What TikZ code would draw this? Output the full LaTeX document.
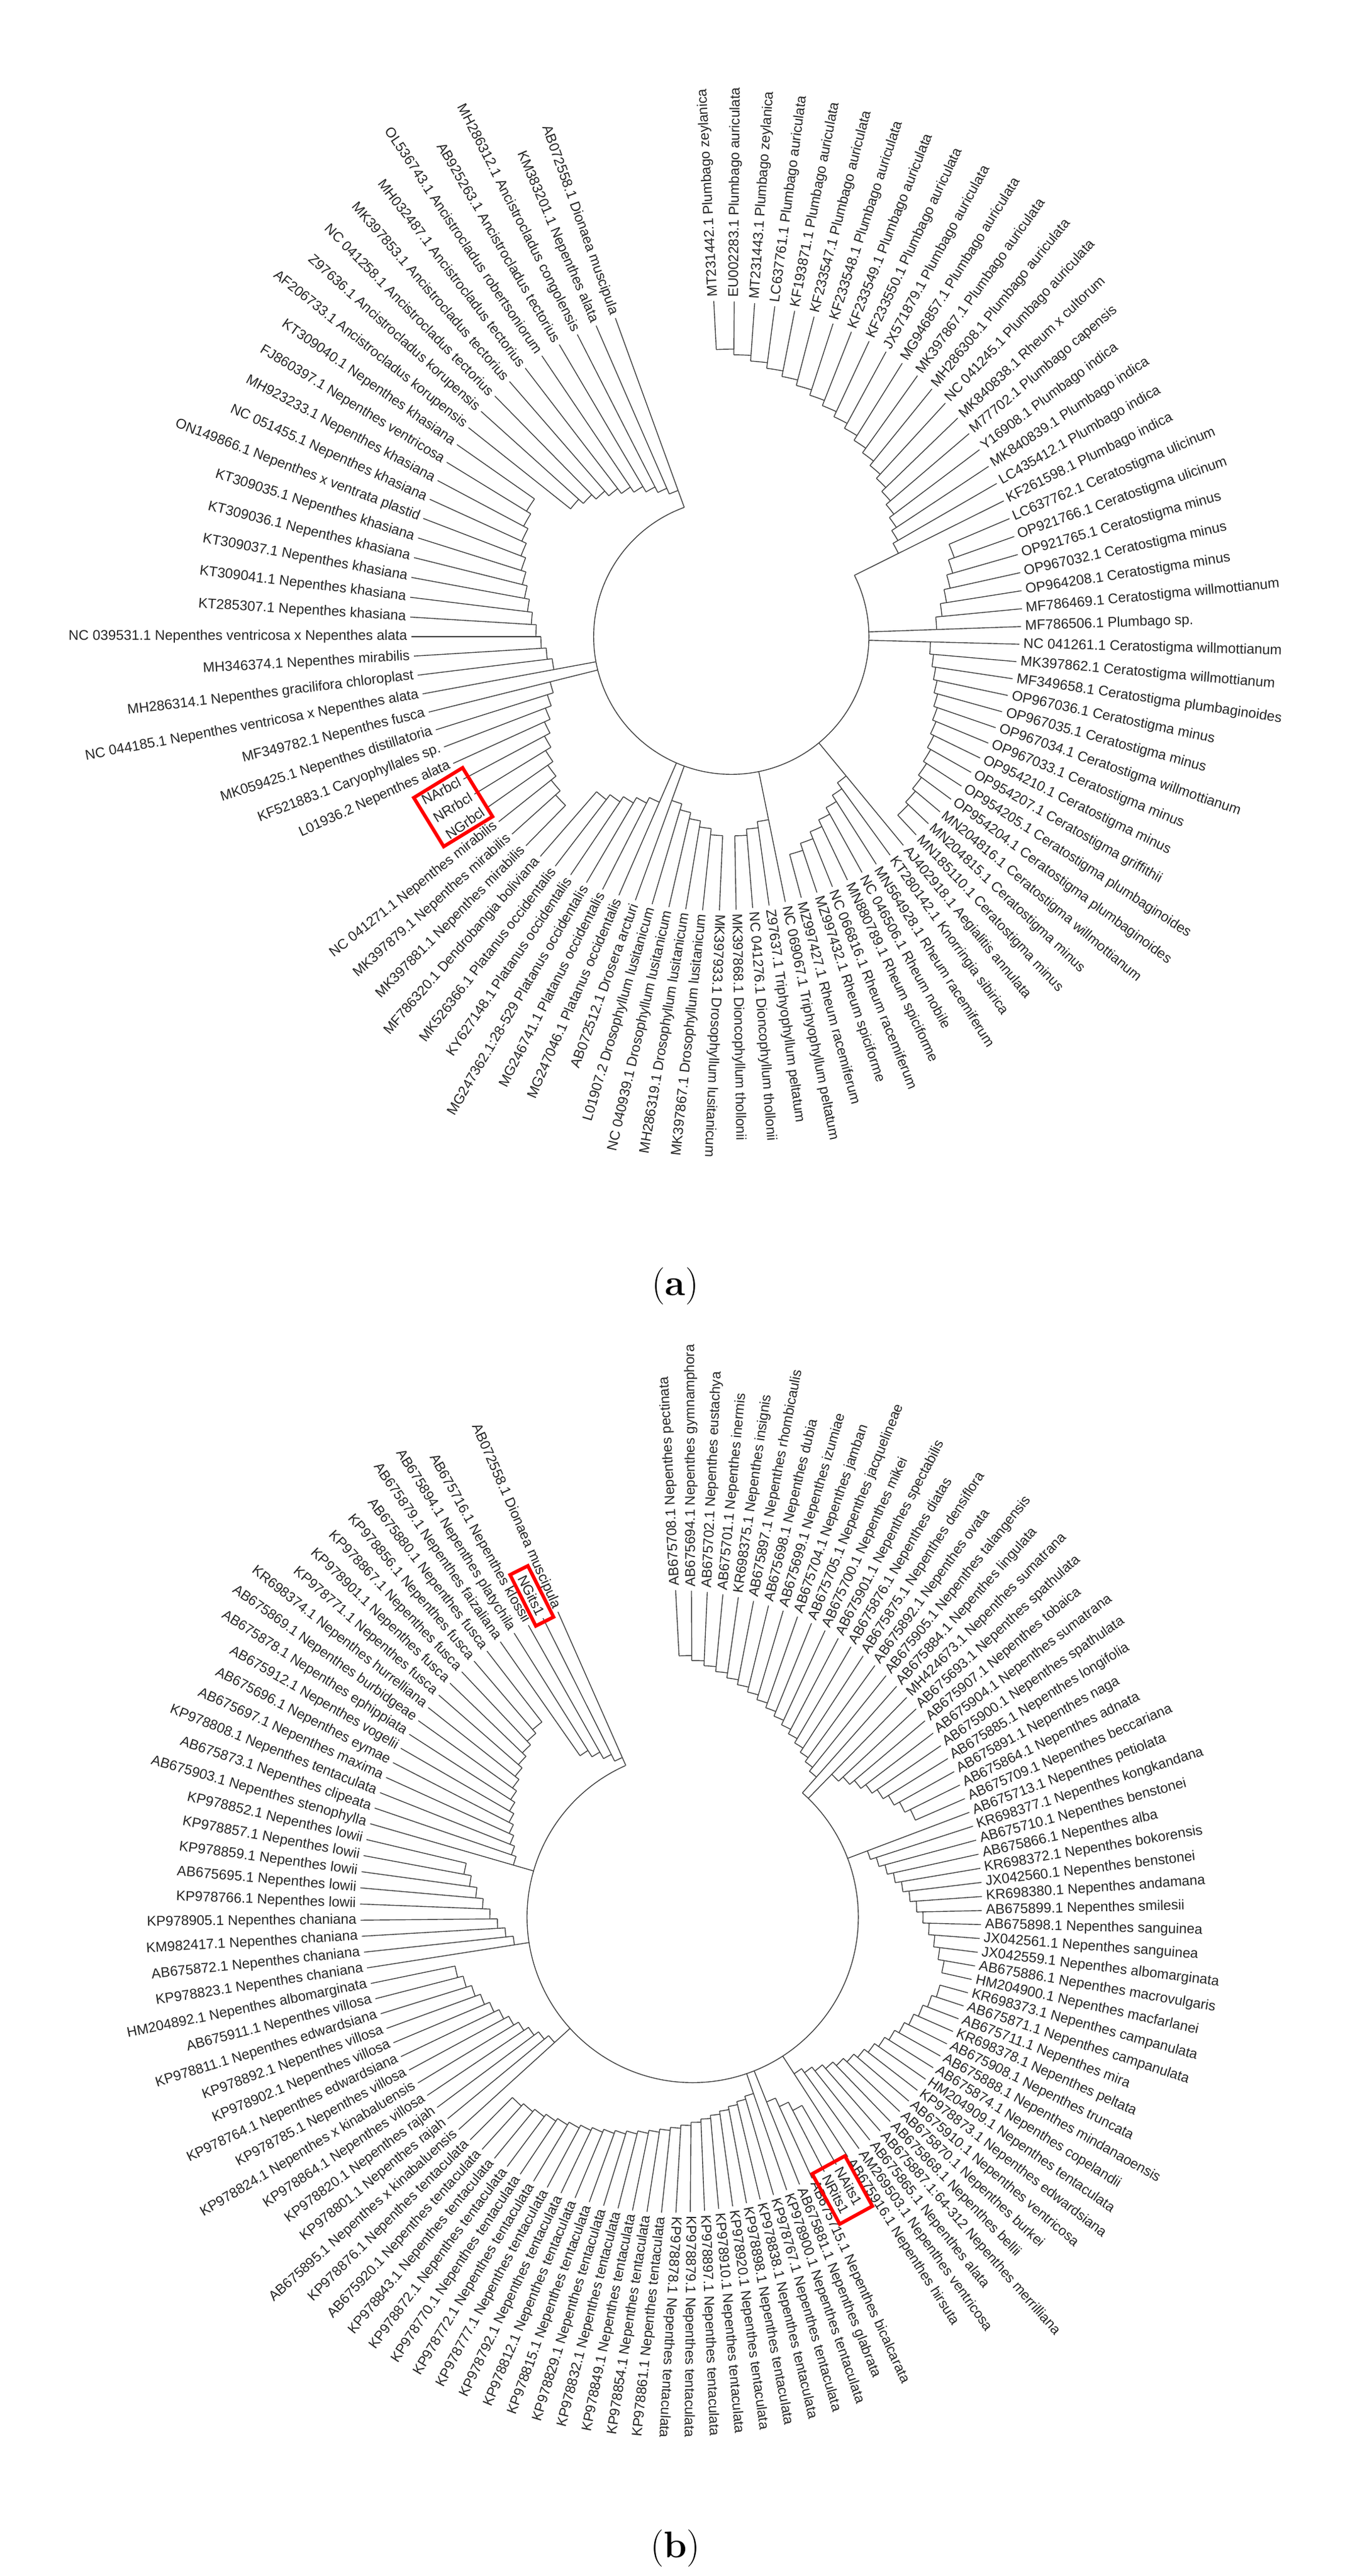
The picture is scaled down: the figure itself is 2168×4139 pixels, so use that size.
\documentclass[tikz,border=0pt]{standalone}
\usepackage{fontspec}
\newfontfamily\labfont{Liberation Sans}
\begin{document}
\begin{tikzpicture}[x=0.01cm,y=0.01cm]
\tikzset{br/.style={draw=black!75,line width=0.4pt},
  lab/.style={font=\labfont\fontsize{6.4}{7}\selectfont,text=black!85,inner sep=0pt},
  redbox/.style={draw=red,line width=1.6pt},
  captxt/.style={font=\fontsize{17}{20}\selectfont,inner sep=0pt}}
\newcommand\ladder[5]{%
 \pgfmathsetmacro\dir{(#2>#1)?1:-1}%
 \foreach \k [count=\j from 0] in {#1,...,#2}{%
  \pgfmathsetmacro\th{\thz-\dth*(\k-1)}%
  \pgfmathsetmacro\rh{#3+#4*\j}%
  \pgfmathsetmacro\rp{(\j==0)?#5:(#3+#4*(\j-1))}%
  \pgfmathsetmacro\rl{\ra+\rb*sin(\th)+\rc*cos(\th)-6}%
  \draw[br] (\th:\rp) -- (\th:\rl);
  \ifnum\k=#2\relax\else
   \pgfmathsetmacro\thn{\thz-\dth*(\k-1+\dir)}%
   \pgfmathsetmacro\rr{\rh*0.01}%
   \draw[br] (\th:\rh) arc[start angle=\th,end angle=\thn,radius=\rr cm];
  \fi}}
\newcommand\leaves[2]{%
 \foreach \k/\t in {#2}{%
  \pgfmathsetmacro\th{\thz-\dth*(\k-1)}%
  \pgfmathsetmacro\rl{\ra+\rb*sin(\th)+\rc*cos(\th)}%
  \pgfmathsetmacro\cs{cos(\th)+0.08}%
  \ifdim\cs pt>0pt
   \node[lab,anchor=west,rotate=\th] (#1\k) at (\th:\rl) {\t};
  \else
   \pgfmathsetmacro\tr{\th+180}%
   \node[lab,anchor=east,rotate=\tr] (#1\k) at (\th:\rl) {\t};
  \fi}}
\newcommand\rbox[3]{%
 \pgfmathsetmacro\th{\thz-\dth*(#1-1)}%
 \pgfmathsetmacro\rl{\ra+\rb*sin(\th)+\rc*cos(\th)}%
 \begin{scope}[rotate=\th]
  \draw[redbox] (\rl-12,-#2) rectangle (\rl+#3,#2);
 \end{scope}}
\useasboundingbox (0,0) rectangle (2168,-4139);
\fill[white] (0,0) rectangle (2168,-4139);
% ---------------- tree (a)
\coordinate (CA) at (1175,-1023);
\begin{scope}[shift={(CA)}]
\def\thz{93}\def\dth{3.5}\def\ra{495}\def\rb{50}\def\rc{-25}
\draw[br] (26.5:221) arc[start angle=26.5,end angle=-250,radius=2.21cm];
\ladder{20}{1}{300}{9}{221}
\ladder{27}{21}{330}{10}{221}
\ladder{28}{41}{320}{6}{221}
\ladder{42}{49}{290}{12}{221}
\ladder{50}{53}{300}{10}{221}
\ladder{59}{54}{280}{10}{221}
\ladder{60}{65}{290}{10}{221}
\ladder{75}{66}{300}{10}{221}
\ladder{76}{89}{290}{8}{221}
\ladder{99}{90}{250}{10}{221}
\leaves{a}{1/{MT231442.1 Plumbago zeylanica},2/{EU002283.1 Plumbago auriculata},3/{MT231443.1 Plumbago zeylanica},4/{LC637761.1 Plumbago auriculata},5/{KF193871.1 Plumbago auriculata},6/{KF233547.1 Plumbago auriculata},7/{KF233548.1 Plumbago auriculata},8/{KF233549.1 Plumbago auriculata},9/{KF233550.1 Plumbago auriculata},10/{JX571879.1 Plumbago auriculata},11/{MG946857.1 Plumbago auriculata},12/{MK397867.1 Plumbago auriculata},13/{MH286308.1 Plumbago auriculata},14/{NC 041245.1 Plumbago auriculata},15/{MK840838.1 Rheum x cultorum},16/{M77702.1 Plumbago capensis},17/{Y16908.1 Plumbago indica},18/{MK840839.1 Plumbago indica},19/{LC435412.1 Plumbago indica},20/{KF261598.1 Plumbago indica},21/{LC637762.1 Ceratostigma ulicinum},22/{OP921766.1 Ceratostigma ulicinum},23/{OP921765.1 Ceratostigma minus},24/{OP967032.1 Ceratostigma minus},25/{OP964208.1 Ceratostigma minus},26/{MF786469.1 Ceratostigma willmottianum},27/{MF786506.1 Plumbago sp.},28/{NC 041261.1 Ceratostigma willmottianum},29/{MK397862.1 Ceratostigma willmottianum},30/{MF349658.1 Ceratostigma plumbaginoides},31/{OP967036.1 Ceratostigma minus},32/{OP967035.1 Ceratostigma minus},33/{OP967034.1 Ceratostigma willmottianum},34/{OP967033.1 Ceratostigma minus},35/{OP954210.1 Ceratostigma minus},36/{OP954207.1 Ceratostigma griffithii},37/{OP954205.1 Ceratostigma plumbaginoides},38/{OP954204.1 Ceratostigma plumbaginoides},39/{MN204816.1 Ceratostigma willmottianum},40/{MN204815.1 Ceratostigma minus},41/{MN185110.1 Ceratostigma minus},42/{AJ402918.1 Aegialitis annulata},43/{KT280142.1 Knorringia sibirica},44/{MN564928.1 Rheum racemiferum},45/{NC 046506.1 Rheum nobile},46/{MN880789.1 Rheum spiciforme},47/{NC 066816.1 Rheum racemiferum},48/{MZ997432.1 Rheum spiciforme},49/{MZ997427.1 Rheum racemiferum},50/{NC 069067.1 Triphyophyllum peltatum},51/{Z97637.1 Triphyophyllum peltatum},52/{NC 041276.1 Dioncophyllum thollonii},53/{MK397868.1 Dioncophyllum thollonii},54/{MK397933.1 Drosophyllum lusitanicum},55/{MK397867.1 Drosophyllum lusitanicum},56/{MH286319.1 Drosophyllum lusitanicum},57/{NC 040939.1 Drosophyllum lusitanicum},58/{L01907.2 Drosophyllum lusitanicum},59/{AB072512.1 Drosera arcturi},60/{MG247046.1 Platanus occidentalis},61/{MG246741.1 Platanus occidentalis},62/{MG247362.1:28-529 Platanus occidentalis},63/{KY627148.1 Platanus occidentalis},64/{MK526366.1 Platanus occidentalis},65/{MF786320.1 Dendrobangia boliviana},66/{MK397881.1 Nepenthes mirabilis},67/{MK397879.1 Nepenthes mirabilis},68/{NC 041271.1 Nepenthes mirabilis},69/{NGrbcl},70/{NRrbcl},71/{NArbcl},72/{L01936.2 Nepenthes alata},73/{KF521883.1 Caryophyllales sp.},74/{MK059425.1 Nepenthes distillatoria},75/{MF349782.1 Nepenthes fusca},76/{NC 044185.1 Nepenthes ventricosa x Nepenthes alata},77/{MH286314.1 Nepenthes gracilifora chloroplast},78/{MH346374.1 Nepenthes mirabilis},79/{NC 039531.1 Nepenthes ventricosa x Nepenthes alata},80/{KT285307.1 Nepenthes khasiana},81/{KT309041.1 Nepenthes khasiana},82/{KT309037.1 Nepenthes khasiana},83/{KT309036.1 Nepenthes khasiana},84/{KT309035.1 Nepenthes khasiana},85/{ON149866.1 Nepenthes x ventrata plastid},86/{NC 051455.1 Nepenthes khasiana},87/{MH923233.1 Nepenthes khasiana},88/{FJ860397.1 Nepenthes ventricosa},89/{KT309040.1 Nepenthes khasiana},90/{AF206733.1 Ancistrocladus korupensis},91/{Z97636.1 Ancistrocladus korupensis},92/{NC 041258.1 Ancistrocladus tectorius},93/{MK397853.1 Ancistrocladus tectorius},94/{MH032487.1 Ancistrocladus tectorius},95/{OL536743.1 Ancistrocladus robertsoniorum},96/{AB925263.1 Ancistrocladus tectorius},97/{MH286312.1 Ancistrocladus congolensis},98/{KM383201.1 Nepenthes alata},99/{AB072558.1 Dionaea muscipula}}
\rbox{70}{46}{80}
\end{scope}
\node[captxt] (capa) at (1085,-2067) {(\textbf{a})};
% ---------------- tree (b)
\coordinate (CB) at (1113,-3080);
\begin{scope}[shift={(CB)}]
\def\thz{93}\def\dth{2.78}\def\ra{505}\def\rb{25}\def\rc{-35}
\draw[br] (48.5:266) arc[start angle=48.5,end angle=-246,radius=2.66cm];
\ladder{17}{1}{300}{8}{266}
\ladder{18}{26}{320}{10}{266}
\ladder{27}{39}{300}{10}{266}
\ladder{55}{40}{300}{8}{266}
\ladder{59}{56}{320}{15}{266}
\ladder{60}{83}{300}{5}{266}
\ladder{84}{95}{300}{9}{266}
\ladder{96}{104}{290}{12}{266}
\ladder{105}{118}{300}{8}{266}
\ladder{123}{119}{280}{12}{266}
\leaves{b}{1/{AB675708.1 Nepenthes pectinata},2/{AB675694.1 Nepenthes gymnamphora},3/{AB675702.1 Nepenthes eustachya},4/{AB675701.1 Nepenthes inermis},5/{KR698375.1 Nepenthes insignis},6/{AB675897.1 Nepenthes rhombicaulis},7/{AB675698.1 Nepenthes dubia},8/{AB675699.1 Nepenthes izumiae},9/{AB675704.1 Nepenthes jamban},10/{AB675705.1 Nepenthes jacquelineae},11/{AB675700.1 Nepenthes mikei},12/{AB675901.1 Nepenthes spectabilis},13/{AB675876.1 Nepenthes diatas},14/{AB675875.1 Nepenthes densiflora},15/{AB675892.1 Nepenthes ovata},16/{AB675905.1 Nepenthes talangensis},17/{AB675884.1 Nepenthes lingulata},18/{MH424673.1 Nepenthes sumatrana},19/{AB675693.1 Nepenthes spathulata},20/{AB675907.1 Nepenthes tobaica},21/{AB675904.1 Nepenthes sumatrana},22/{AB675900.1 Nepenthes spathulata},23/{AB675885.1 Nepenthes longifolia},24/{AB675891.1 Nepenthes naga},25/{AB675864.1 Nepenthes adnata},26/{AB675709.1 Nepenthes beccariana},27/{AB675713.1 Nepenthes petiolata},28/{KR698377.1 Nepenthes kongkandana},29/{AB675710.1 Nepenthes benstonei},30/{AB675866.1 Nepenthes alba},31/{KR698372.1 Nepenthes bokorensis},32/{JX042560.1 Nepenthes benstonei},33/{KR698380.1 Nepenthes andamana},34/{AB675899.1 Nepenthes smilesii},35/{AB675898.1 Nepenthes sanguinea},36/{JX042561.1 Nepenthes sanguinea},37/{JX042559.1 Nepenthes albomarginata},38/{AB675886.1 Nepenthes macrovulgaris},39/{HM204900.1 Nepenthes macfarlanei},40/{KR698373.1 Nepenthes campanulata},41/{AB675871.1 Nepenthes campanulata},42/{AB675711.1 Nepenthes mira},43/{KR698378.1 Nepenthes peltata},44/{AB675908.1 Nepenthes truncata},45/{AB675888.1 Nepenthes mindanaoensis},46/{AB675874.1 Nepenthes copelandii},47/{HM204909.1 Nepenthes tentaculata},48/{KP978873.1 Nepenthes edwardsiana},49/{AB675910.1 Nepenthes ventricosa},50/{AB675870.1 Nepenthes burkei},51/{AB675868.1 Nepenthes bellii},52/{AB675887.1:64-312 Nepenthes merrilliana},53/{AB675865.1 Nepenthes alata},54/{AM269503.1 Nepenthes ventricosa},55/{AB675916.1 Nepenthes hirsuta},56/{NAits1},57/{NRits1},58/{AB675715.1 Nepenthes bicalcarata},59/{AB675881.1 Nepenthes glabrata},60/{KP978900.1 Nepenthes tentaculata},61/{KP978767.1 Nepenthes tentaculata},62/{KP978838.1 Nepenthes tentaculata},63/{KP978898.1 Nepenthes tentaculata},64/{KP978920.1 Nepenthes tentaculata},65/{KP978910.1 Nepenthes tentaculata},66/{KP978897.1 Nepenthes tentaculata},67/{KP978879.1 Nepenthes tentaculata},68/{KP978878.1 Nepenthes tentaculata},69/{KP978861.1 Nepenthes tentaculata},70/{KP978854.1 Nepenthes tentaculata},71/{KP978849.1 Nepenthes tentaculata},72/{KP978832.1 Nepenthes tentaculata},73/{KP978829.1 Nepenthes tentaculata},74/{KP978815.1 Nepenthes tentaculata},75/{KP978812.1 Nepenthes tentaculata},76/{KP978792.1 Nepenthes tentaculata},77/{KP978777.1 Nepenthes tentaculata},78/{KP978772.1 Nepenthes tentaculata},79/{KP978770.1 Nepenthes tentaculata},80/{KP978872.1 Nepenthes tentaculata},81/{KP978843.1 Nepenthes tentaculata},82/{AB675920.1 Nepenthes tentaculata},83/{KP978876.1 Nepenthes tentaculata},84/{AB675895.1 Nepenthes x kinabaluensis},85/{KP978801.1 Nepenthes rajah},86/{KP978820.1 Nepenthes rajah},87/{KP978864.1 Nepenthes villosa},88/{KP978824.1 Nepenthes x kinabaluensis},89/{KP978785.1 Nepenthes villosa},90/{KP978764.1 Nepenthes edwardsiana},91/{KP978902.1 Nepenthes villosa},92/{KP978892.1 Nepenthes villosa},93/{KP978811.1 Nepenthes edwardsiana},94/{AB675911.1 Nepenthes villosa},95/{HM204892.1 Nepenthes albomarginata},96/{KP978823.1 Nepenthes chaniana},97/{AB675872.1 Nepenthes chaniana},98/{KM982417.1 Nepenthes chaniana},99/{KP978905.1 Nepenthes chaniana},100/{KP978766.1 Nepenthes lowii},101/{AB675695.1 Nepenthes lowii},102/{KP978859.1 Nepenthes lowii},103/{KP978857.1 Nepenthes lowii},104/{KP978852.1 Nepenthes lowii},105/{AB675903.1 Nepenthes stenophylla},106/{AB675873.1 Nepenthes clipeata},107/{KP978808.1 Nepenthes tentaculata},108/{AB675697.1 Nepenthes maxima},109/{AB675696.1 Nepenthes eymae},110/{AB675912.1 Nepenthes vogelii},111/{AB675878.1 Nepenthes ephippiata},112/{AB675869.1 Nepenthes burbidgeae},113/{KR698374.1 Nepenthes hurrelliana},114/{KP978771.1 Nepenthes fusca},115/{KP978901.1 Nepenthes fusca},116/{KP978867.1 Nepenthes fusca},117/{KP978856.1 Nepenthes fusca},118/{AB675880.1 Nepenthes fusca},119/{AB675879.1 Nepenthes faizaliana},120/{AB675894.1 Nepenthes platychila},121/{AB675716.1 Nepenthes klossii},122/{NGits1},123/{AB072558.1 Dionaea muscipula}}
\rbox{56.5}{30}{80}
\rbox{122}{16}{80}
\end{scope}
\node[captxt] (capb) at (1085,-4095) {(\textbf{b})};
\end{tikzpicture}
\end{document}
